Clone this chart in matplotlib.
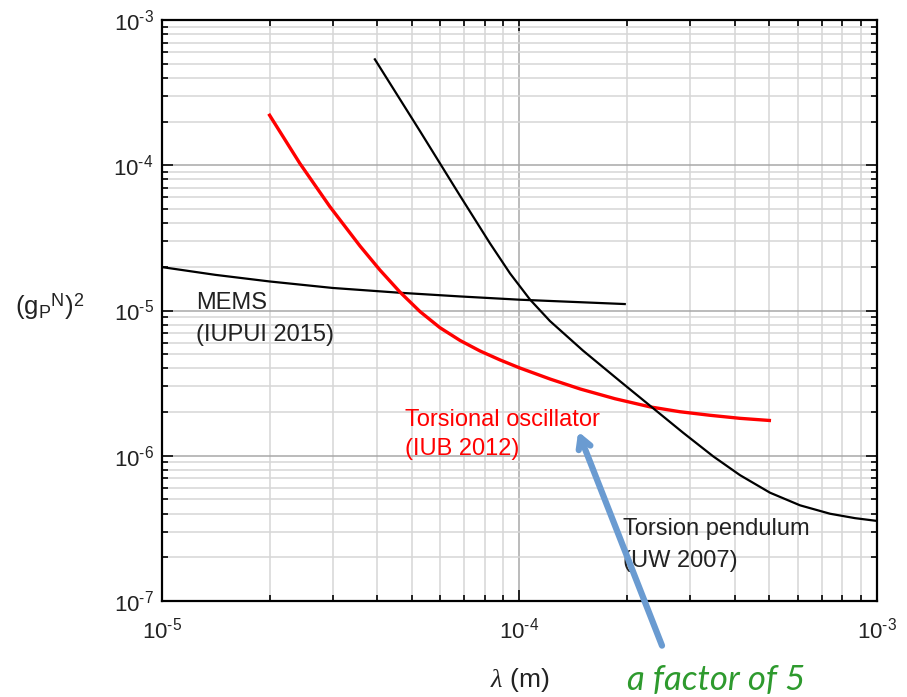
import matplotlib.pyplot as plt
from matplotlib.ticker import LogLocator, NullFormatter, FuncFormatter
import numpy as np

plt.rcParams['font.family'] = ['Liberation Sans', 'DejaVu Sans']
plt.rcParams['mathtext.fontset'] = 'custom'
plt.rcParams['mathtext.rm'] = 'Liberation Sans'
plt.rcParams['mathtext.it'] = 'Liberation Serif:italic'

# Constraint curves on (g_P^N)^2 versus range lambda (m)
mems_lam = [1.0e-5, 1.41e-5, 2.0e-5, 3.0e-5, 4.63e-5, 6.82e-5, 1.0e-4, 1.97e-4]
mems_g2 = [1.99e-5, 1.76e-5, 1.585e-5, 1.43e-5, 1.325e-5, 1.25e-5, 1.187e-5, 1.108e-5]

osc_lam = [2.0e-5, 2.43e-5, 2.95e-5, 3.58e-5, 4.07e-5, 4.63e-5, 5.27e-5, 5.99e-5,
           6.82e-5, 7.75e-5, 8.82e-5, 1.0e-4, 1.22e-4, 1.48e-4, 1.85e-4, 2.32e-4,
           2.81e-4, 3.41e-4, 4.14e-4, 5.0e-4]
osc_g2 = [2.21e-4, 1.03e-4, 5.18e-5, 2.78e-5, 1.90e-5, 1.34e-5, 9.83e-6, 7.62e-6,
          6.22e-6, 5.27e-6, 4.57e-6, 4.03e-6, 3.37e-6, 2.88e-6, 2.47e-6, 2.17e-6,
          2.01e-6, 1.90e-6, 1.81e-6, 1.75e-6]

pend_lam = [3.94e-5, 5.27e-5, 6.82e-5, 8.27e-5, 9.41e-5, 1.07e-4, 1.217e-4, 1.505e-4,
            1.911e-4, 2.362e-4, 2.87e-4, 3.48e-4, 4.14e-4, 5.02e-4, 6.09e-4, 7.39e-4,
            8.68e-4, 1.0e-3]
pend_g2 = [5.36e-4, 1.716e-4, 6.16e-5, 2.90e-5, 1.80e-5, 1.19e-5, 8.46e-6, 5.30e-6,
           3.26e-6, 2.13e-6, 1.44e-6, 9.92e-7, 7.35e-7, 5.57e-7, 4.56e-7, 3.99e-7,
           3.72e-7, 3.56e-7]

fig = plt.figure(figsize=(9.07, 6.97), dpi=100)
ax = fig.add_axes([0.1786, 0.1377, 0.7883, 0.8336])

ax.plot(mems_lam, mems_g2, color='black', lw=1.6)
ax.plot(osc_lam, osc_g2, color='red', lw=2.4)
ax.plot(pend_lam, pend_g2, color='black', lw=1.6)

ax.set_xscale('log')
ax.set_yscale('log')
ax.set_xlim(1e-5, 1e-3)
ax.set_ylim(1e-7, 1e-3)


def pow10(v, pos):
    e = int(round(np.log10(v)))
    sign = r'\text{-}' if e < 0 else ''
    return r'$\mathregular{10^{%s%d}}$' % (sign, abs(e))


for axis in (ax.xaxis, ax.yaxis):
    axis.set_major_locator(LogLocator(base=10, numticks=10))
    axis.set_minor_locator(LogLocator(base=10, subs=range(2, 10), numticks=20))
    axis.set_major_formatter(FuncFormatter(pow10))
    axis.set_minor_formatter(NullFormatter())

ax.grid(which='major', color='#a8a8a8', lw=1.1)
ax.grid(which='minor', color='#d6d6d6', lw=1.1)
ax.set_axisbelow(True)

for s in ax.spines.values():
    s.set_linewidth(1.6)
ax.tick_params(which='both', direction='in', top=True, right=True, width=1.4,
               labelsize=16, colors='#222222')
ax.tick_params(which='major', length=8)
ax.tick_params(which='minor', length=4.5)
ax.tick_params(axis='x', which='major', pad=12)
ax.tick_params(axis='y', which='major', pad=6)

ax.set_xlabel(r'$\lambda$ (m)', fontsize=19, labelpad=16, color='#222222')
fig.text(15 / 907, 1 - 307 / 697,
         r'(g$_\mathregular{P}$$^\mathregular{N}$)$^\mathregular{2}$',
         fontsize=18.5, ha='left', va='center', color='#222222')

txt = dict(fontsize=17, ha='left', va='center')
ax.text(1.245e-5, 1.12e-5, 'MEMS', color='#222222', **txt)
ax.text(1.245e-5, 6.73e-6, '(IUPUI 2015)', color='#222222', **txt)
ax.text(4.78e-5, 1.77e-6, 'Torsional oscillator', color='red', **txt)
ax.text(4.78e-5, 1.12e-6, '(IUB 2012)', color='red', **txt)
ax.text(1.95e-4, 3.14e-7, 'Torsion pendulum', color='#222222', **txt)
ax.text(1.95e-4, 1.89e-7, '(UW 2007)', color='#222222', **txt)

ax.annotate('', xy=(1.45e-4, 1.53e-6), xycoords='data',
            xytext=(0.731, 0.070), textcoords='figure fraction',
            arrowprops=dict(arrowstyle='->,head_length=0.8,head_width=0.45',
                            color='#6a9bd1', lw=4.5),
            annotation_clip=False)
fig.text(627 / 907, 1 - 680 / 697, 'a factor of 5', family='Lato',
         style='italic', fontsize=25, color='#2e9a2e', ha='left', va='center')

fig.savefig('out.png', dpi=100)
